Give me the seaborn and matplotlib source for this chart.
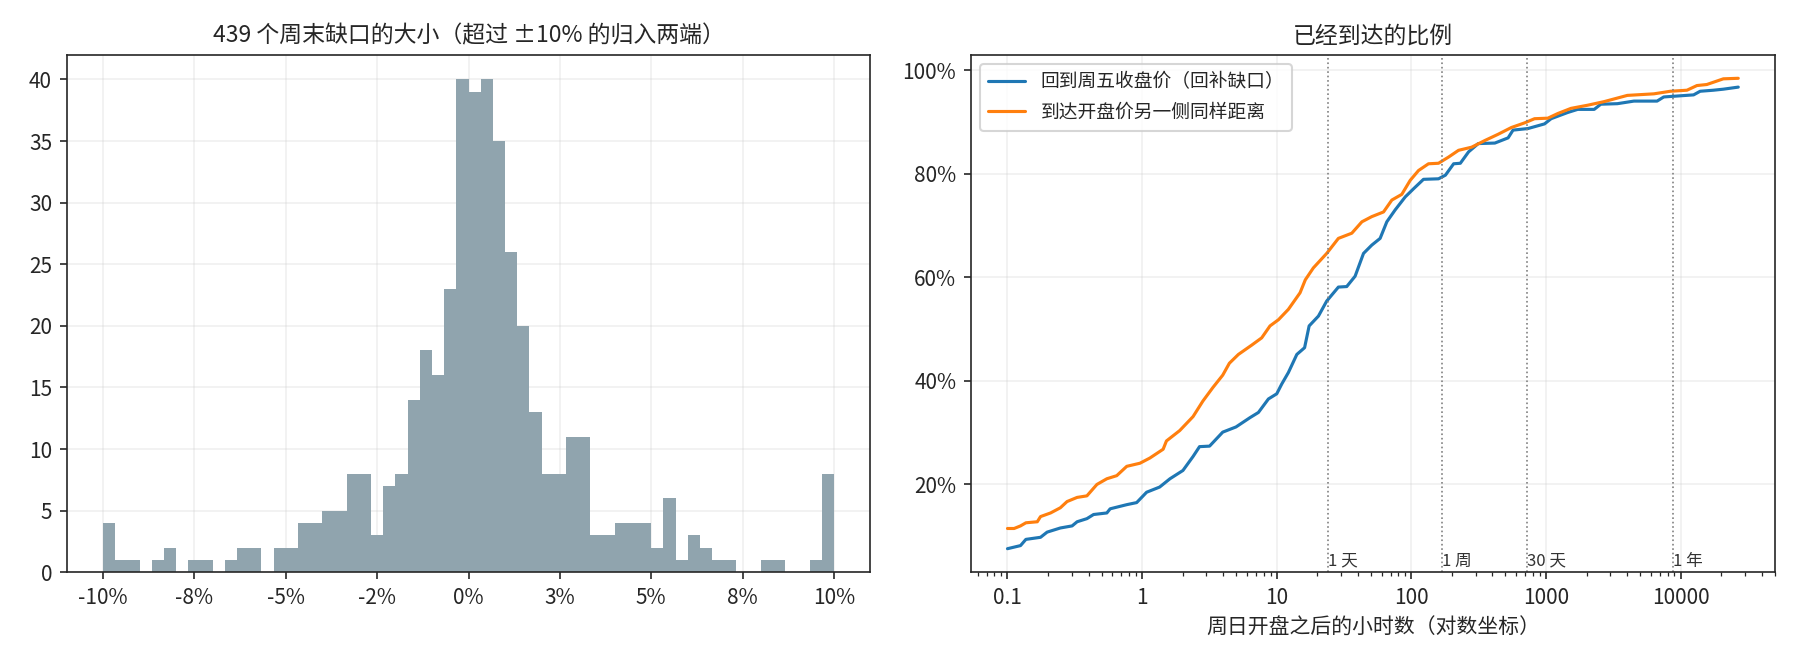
import numpy as np
import pandas as pd
import matplotlib
matplotlib.use("Agg")
import matplotlib.pyplot as plt
from matplotlib.ticker import PercentFormatter, FuncFormatter
import seaborn as sns

# ---- left panel: weekend gap sizes, 60 bins over -10% .. +10% (tails clipped into end bins)
gap_counts = [4, 1, 1, 0, 1, 2, 0, 1, 1, 0,
              1, 2, 2, 0, 2, 2, 4, 4, 5, 5,
              8, 8, 3, 7, 8, 14, 18, 16, 23, 40,
              39, 40, 35, 26, 20, 13, 8, 8, 11, 11,
              3, 3, 4, 4, 4, 2, 6, 1, 3, 2,
              1, 1, 0, 0, 1, 1, 0, 0, 1, 8]
gap_ticks = [-0.10, -0.075, -0.05, -0.025, 0.0, 0.025, 0.05, 0.075, 0.10]
gap_tick_labels = ["-10%", "-8%", "-5%", "-2%", "0%", "3%", "5%", "8%", "10%"]

# ---- right panel: share of gaps reached vs hours after Sunday open
fill_hours = [0.1, 0.125, 0.137, 0.176, 0.197, 0.247, 0.302, 0.329, 0.389, 0.436,
              0.547, 0.579, 0.769, 0.911, 1.08, 1.35, 1.61, 2.01, 2.39, 2.67,
              3.17, 3.97, 4.98, 6.33, 7.31, 8.67, 10, 10.9, 12.2, 14.1,
              16.1, 17.4, 20.4, 23.5, 28.7, 33.1, 38.2, 44.1, 50.8, 58.6,
              65.7, 75.8, 90, 104, 123, 159, 179, 206, 231, 266,
              314, 417, 523, 569, 734, 975, 1091, 1449, 1718, 2280,
              2553, 3388, 4498, 6683, 7494, 12480, 13960, 17520, 20770, 26790]
fill_share = [7.6, 8.2, 9.4, 9.8, 10.8, 11.6, 12.0, 12.8, 13.4, 14.2,
              14.5, 15.3, 16.1, 16.5, 18.5, 19.5, 21.1, 22.7, 25.4, 27.3,
              27.4, 30.1, 31.1, 32.9, 33.9, 36.5, 37.5, 39.4, 41.6, 45.1,
              46.4, 50.6, 52.5, 55.4, 58.1, 58.2, 60.2, 64.6, 66.2, 67.5,
              70.7, 73.0, 75.5, 77.1, 78.9, 79.0, 79.7, 81.9, 82.0, 84.2,
              85.8, 85.9, 86.9, 88.4, 88.7, 89.6, 90.6, 91.8, 92.4, 92.4,
              93.4, 93.5, 94.0, 94.0, 94.8, 95.2, 95.9, 96.1, 96.3, 96.7]

mirror_hours = [0.1, 0.112, 0.125, 0.137, 0.1665, 0.176, 0.209, 0.247, 0.277, 0.329,
                0.389, 0.4615, 0.547, 0.648, 0.769, 0.964, 1.142, 1.433, 1.516, 1.902,
                2.39, 2.828, 3.352, 3.97, 4.448, 5.19, 6.52, 7.73, 8.91, 10.3,
                12.2, 14.9, 16.3, 18.7, 23.5, 28.7, 36.1, 42.9, 50.8, 62.1,
                71.6, 84.9, 98, 113, 134, 159, 189, 224, 280, 352,
                441, 553, 694, 822, 1032, 1223, 1534, 2036, 2703, 4018,
                6322, 8395, 11140, 13210, 15640, 20770, 26790]
mirror_share = [11.5, 11.5, 12.0, 12.6, 12.8, 13.8, 14.5, 15.5, 16.7, 17.5,
                17.8, 20.0, 21.1, 21.7, 23.5, 24.1, 25.1, 26.8, 28.4, 30.4,
                33.1, 36.1, 38.7, 41.1, 43.4, 45.1, 46.9, 48.3, 50.6, 51.8,
                53.8, 57.0, 59.5, 61.8, 64.6, 67.5, 68.5, 70.7, 71.7, 72.6,
                74.9, 76.0, 78.7, 80.6, 81.9, 82.0, 83.2, 84.5, 85.1, 86.4,
                87.6, 88.9, 89.8, 90.6, 90.7, 91.6, 92.6, 93.2, 93.9, 95.1,
                95.4, 95.9, 96.1, 97.0, 97.2, 98.3, 98.4]

marker_hours = [24, 168, 720, 8760]
marker_labels = ["1 天", "1 周", "30 天", "1 年"]
log_ticks = [0.1, 1, 10, 100, 1000, 10000]

fill_label = "回到周五收盘价（回补缺口）"
mirror_label = "到达开盘价另一侧同样距离"

sns.set_style("ticks")
plt.rcParams['font.family'] = ['Noto Sans CJK SC', 'DejaVu Sans']
plt.rcParams['axes.unicode_minus'] = False

fig, (ax1, ax2) = plt.subplots(1, 2, figsize=(12, 4.4), dpi=150)
fig.subplots_adjust(left=0.037, right=0.986, bottom=0.133, top=0.917, wspace=0.125)

# histogram
edges = np.linspace(-0.10, 0.10, len(gap_counts) + 1)
hist_df = pd.DataFrame({"gap": (edges[:-1] + edges[1:]) / 2, "n": gap_counts})
sns.histplot(data=hist_df, x="gap", weights="n", bins=len(gap_counts),
             binrange=(-0.10, 0.10), color="#90a4ae", alpha=1, linewidth=0, ax=ax1)
ax1.set_xticks(gap_ticks)
ax1.set_xticklabels(gap_tick_labels)
ax1.set_yticks(range(0, 41, 5))
ax1.set_xlabel("")
ax1.set_ylabel("")
ax1.set_title("%d 个周末缺口的大小（超过 ±10%% 的归入两端）" % sum(gap_counts), fontsize=11)
ax1.grid(alpha=0.3)
ax1.set_axisbelow(True)

# reach curves
df = pd.concat([
    pd.DataFrame({"hours": fill_hours, "share": np.array(fill_share) / 100, "kind": fill_label}),
    pd.DataFrame({"hours": mirror_hours, "share": np.array(mirror_share) / 100, "kind": mirror_label}),
])
sns.lineplot(data=df, x="hours", y="share", hue="kind",
             palette=["#1f77b4", "#ff7f0e"], linewidth=1.5, ax=ax2)
ax2.set_xscale("log")
ax2.set_xticks(log_ticks)
ax2.xaxis.set_major_formatter(FuncFormatter(lambda v, _: "%g" % v))
ax2.yaxis.set_major_formatter(PercentFormatter(1.0, decimals=0))
ax2.margins(x=0.05, y=0.05)
for h, lab in zip(marker_hours, marker_labels):
    ax2.axvline(h, color="grey", linestyle=":", linewidth=0.8)
    ax2.text(h, 0.005, lab, transform=ax2.get_xaxis_transform(),
             fontsize=8, ha="left", va="bottom", color="#333333")
ax2.set_title("已经到达的比例", fontsize=11)
ax2.set_xlabel("周日开盘之后的小时数（对数坐标）", fontsize=10)
ax2.set_ylabel("")
ax2.grid(alpha=0.3)
ax2.legend(loc="upper left", fontsize=9, title=None)

fig.savefig("out.png", dpi=150)
